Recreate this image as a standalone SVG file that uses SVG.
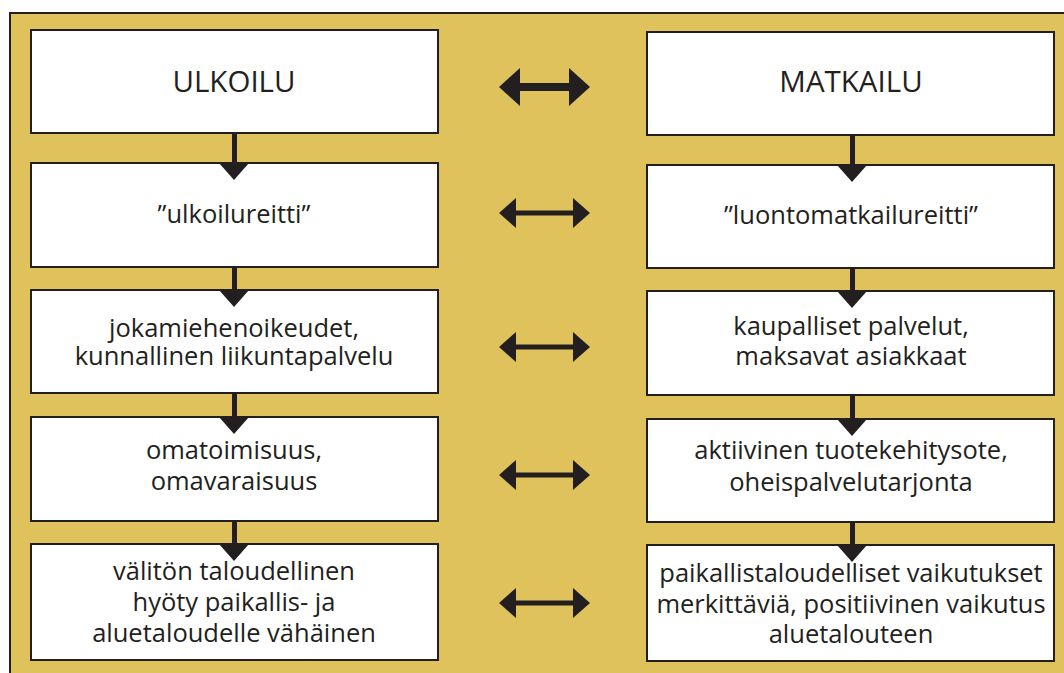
<svg xmlns="http://www.w3.org/2000/svg" width="1064" height="673" viewBox="0 0 1064 673">
<defs>
<style>
.box{fill:#ffffff;stroke:#231f20;stroke-width:2}
.t{font-family:"Open Sans","Liberation Sans",sans-serif;font-size:25.5px;fill:#231f20;text-anchor:middle}
.h{font-size:29.5px}
.a{fill:#231f20}
</style>
</defs>
<rect width="1064" height="673" fill="#ffffff"/>
<rect x="10" y="13" width="1070" height="680" fill="#dfc25c" stroke="#231f20" stroke-width="2"/>
<g id="ulkoilu"><rect class="box" x="31" y="30" width="407" height="103"/><text class="t h" x="234" y="92">ULKOILU</text></g>
<g id="ulkoilureitti"><rect class="box" x="31" y="163" width="407" height="104"/><text class="t" x="234" y="223">”ulkoilureitti”</text></g>
<g id="jokamiehenoikeudet"><rect class="box" x="31" y="290" width="407" height="103"/><text class="t" x="234" y="337">jokamiehenoikeudet,</text><text class="t" x="234" y="365">kunnallinen liikuntapalvelu</text></g>
<g id="omatoimisuus"><rect class="box" x="31" y="417" width="407" height="104"/><text class="t" x="234" y="459">omatoimisuus,</text><text class="t" x="234" y="490">omavaraisuus</text></g>
<g id="valiton"><rect class="box" x="31" y="544" width="407" height="116"/><text class="t" x="234" y="580">välitön taloudellinen</text><text class="t" x="234" y="611">hyöty paikallis- ja</text><text class="t" x="234" y="642">aluetaloudelle vähäinen</text></g>
<g id="matkailu"><rect class="box" x="647" y="32" width="407" height="103"/><text class="t h" x="851" y="92">MATKAILU</text></g>
<g id="luontomatkailureitti"><rect class="box" x="647" y="165" width="407" height="103"/><text class="t" x="851" y="224">”luontomatkailureitti”</text></g>
<g id="kaupalliset"><rect class="box" x="647" y="291" width="407" height="104"/><text class="t" x="851" y="335">kaupalliset palvelut,</text><text class="t" x="851" y="365">maksavat asiakkaat</text></g>
<g id="aktiivinen"><rect class="box" x="647" y="419" width="407" height="103"/><text class="t" x="851" y="459">aktiivinen tuotekehitysote,</text><text class="t" x="851" y="491">oheispalvelutarjonta</text></g>
<g id="paikallistaloudelliset"><rect class="box" x="647" y="545" width="407" height="116"/><text class="t" x="851" y="582">paikallistaloudelliset vaikutukset</text><text class="t" x="851" y="613">merkittäviä, positiivinen vaikutus</text><text class="t" x="851" y="643">aluetalouteen</text></g>
<g id="connectors">
<g class="a">
<rect x="232" y="134" width="5" height="29"/><polygon points="219,163 249,163 234,180"/>
<rect x="232" y="268" width="5" height="22"/><polygon points="219,290 249,290 234,307"/>
<rect x="232" y="394" width="5" height="23"/><polygon points="219,417 249,417 234,434"/>
<rect x="232" y="522" width="5" height="22"/><polygon points="219,544 249,544 234,561"/>
<rect x="850" y="136" width="5" height="29"/><polygon points="837,165 867,165 852,182"/>
<rect x="850" y="269" width="5" height="22"/><polygon points="837,291 867,291 852,308"/>
<rect x="850" y="396" width="5" height="23"/><polygon points="837,419 867,419 852,436"/>
<rect x="850" y="523" width="5" height="22"/><polygon points="837,545 867,545 852,562"/>
<polygon points="499,87 520,68 520,83 569,83 569,68 590,87 569,106 569,91 520,91 520,106"/>
<polygon points="499,213 516,198 516,210.5 573,210.5 573,198 590,213 573,228 573,215.5 516,215.5 516,228"/>
<polygon points="499,347 516,332 516,344.5 573,344.5 573,332 590,347 573,362 573,349.5 516,349.5 516,362"/>
<polygon points="499,475 516,460 516,472.5 573,472.5 573,460 590,475 573,490 573,477.5 516,477.5 516,490"/>
<polygon points="499,603 516,588 516,600.5 573,600.5 573,588 590,603 573,618 573,605.5 516,605.5 516,618"/>
</g>
</g>
</svg>
